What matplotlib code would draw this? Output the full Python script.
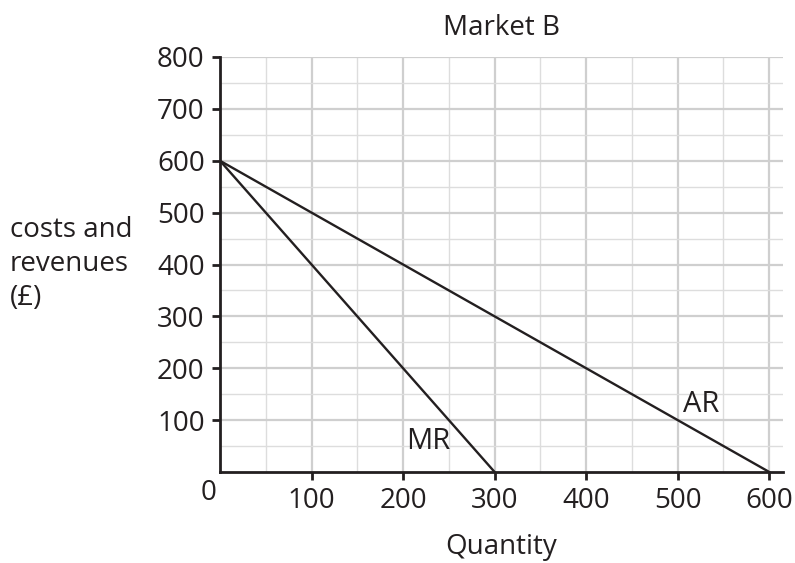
import matplotlib
matplotlib.use("Agg")
import matplotlib.pyplot as plt
import numpy as np

plt.rcParams['font.family'] = ['Open Sans', 'DejaVu Sans']

title = "Market B"
xlabel = "Quantity"
ylabel = "costs and\nrevenues\n(£)"
ar_x = [0, 600]
ar_y = [600, 0]
mr_x = [0, 300]
mr_y = [600, 0]
x_ticks = [100, 200, 300, 400, 500, 600]
y_ticks = [100, 200, 300, 400, 500, 600, 700, 800]

fig = plt.figure(figsize=(7.95, 5.63), dpi=100)
ax = fig.add_axes([220/795, 1-472/563, (783-220)/795, (472-57)/563])

ax.set_xlim(0, 615)
ax.set_ylim(0, 800)

# grid
for v in np.arange(50, 616, 50):
    major = v % 100 == 0
    ax.axvline(v, color='#cfcfcf' if major else '#dddddd', lw=1.6 if major else 1.0, zorder=0)
for v in np.arange(50, 801, 50):
    major = v % 100 == 0
    ax.axhline(v, color='#cfcfcf' if major else '#dddddd', lw=1.6 if major else 1.0, zorder=0)

ax.plot(ar_x, ar_y, color='#231f20', lw=1.7, zorder=3)
ax.plot(mr_x, mr_y, color='#231f20', lw=1.7, zorder=3)

ax.text(227, 58, "MR", fontsize=21, ha='center', va='center', color='#231f20')
ax.text(526, 131, "AR", fontsize=21, ha='center', va='center', color='#231f20')

for s in ['top', 'right']:
    ax.spines[s].set_visible(False)
for s in ['left', 'bottom']:
    ax.spines[s].set_linewidth(2)
    ax.spines[s].set_color('#231f20')
    ax.spines[s].set_zorder(4)

ax.set_xticks(x_ticks)
ax.set_yticks(y_ticks)
ax.tick_params(direction='out', length=6, width=2, color='#231f20',
               labelsize=20, labelcolor='#231f20', pad=5)

ax.text(-13, -40, "0", fontsize=20, ha='center', va='center', color='#231f20')

ax.set_title(title, fontsize=20, color='#231f20', pad=16)
ax.set_xlabel(xlabel, fontsize=20, color='#231f20', labelpad=13)
fig.text(10/795, 1-264/563, ylabel, fontsize=20, ha='left', va='center',
         color='#231f20', linespacing=1.3)

fig.savefig("out.png", dpi=100)
